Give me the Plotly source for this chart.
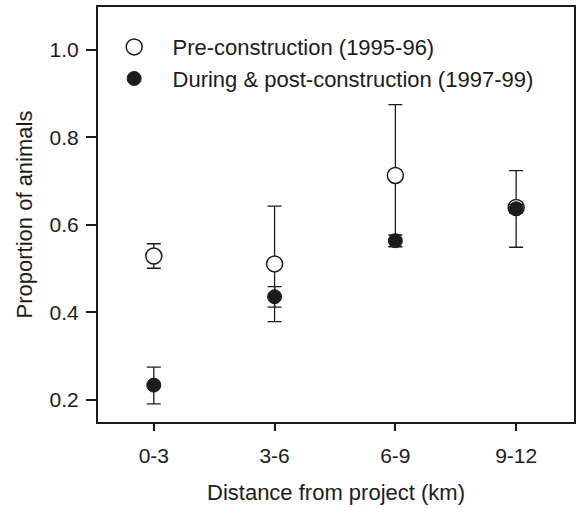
import plotly.graph_objects as go

categories = ["0-3", "3-6", "6-9", "9-12"]

pre_values = [0.529, 0.511, 0.713, 0.640]
pre_err_plus = [0.028, 0.132, 0.162, 0.084]
pre_err_minus = [0.028, 0.132, 0.162, 0.091]

post_values = [0.234, 0.436, 0.564, 0.637]
post_err_plus = [0.041, 0.023, 0.013, 0.010]
post_err_minus = [0.043, 0.024, 0.014, 0.010]

y_ticks = [0.2, 0.4, 0.6, 0.8, 1.0]
y_ticktext = ["0.2", "0.4", "0.6", "0.8", "1.0"]

INK = "#1c1c1c"
FONT = "Liberation Sans, Arial, sans-serif"
pad = "\u00a0" * 3

fig = go.Figure()

fig.add_trace(go.Scatter(
    x=categories, y=pre_values, mode="markers",
    name=pad + "Pre-construction (1995-96)",
    marker=dict(symbol="circle", size=16, color="white",
                line=dict(color=INK, width=1.5)),
    error_y=dict(type="data", symmetric=False, array=pre_err_plus,
                 arrayminus=pre_err_minus, color=INK, thickness=1.3, width=7),
))

fig.add_trace(go.Scatter(
    x=categories, y=post_values, mode="markers",
    name=pad + "During & post-construction (1997-99)",
    marker=dict(symbol="circle", size=14, color=INK,
                line=dict(color=INK, width=1)),
    error_y=dict(type="data", symmetric=False, array=post_err_plus,
                 arrayminus=post_err_minus, color=INK, thickness=1.3, width=7),
))

fig.update_layout(
    width=578, height=508,
    margin=dict(l=98, r=2, t=7, b=86),
    paper_bgcolor="white", plot_bgcolor="white",
    font=dict(family=FONT, color=INK, size=21),
    showlegend=True,
    legend=dict(x=0.034, y=0.954, xanchor="left", yanchor="top",
                font=dict(size=22, color=INK), bgcolor="rgba(0,0,0,0)",
                tracegroupgap=0),
    xaxis=dict(
        type="category", range=[-0.462, 3.479],
        showline=True, linecolor=INK, linewidth=2, mirror=True,
        ticks="outside", ticklen=7, tickwidth=1.5, tickcolor=INK,
        ticklabelstandoff=7,
        showgrid=False, zeroline=False,
        tickfont=dict(size=21),
        title=dict(text="Distance from project (km)", font=dict(size=22), standoff=18),
    ),
    yaxis=dict(
        range=[0.1497, 1.098],
        tickvals=y_ticks, ticktext=y_ticktext,
        showline=True, linecolor=INK, linewidth=2, mirror=True,
        ticks="outside", ticklen=10, tickwidth=1.5, tickcolor=INK,
        ticklabelstandoff=3,
        showgrid=False, zeroline=False,
        tickfont=dict(size=21),
        title=dict(text="Proportion of animals", font=dict(size=22), standoff=11),
    ),
)

fig.write_html("out.html", config={"displayModeBar": False},
               post_script="document.body.style.margin='0';")
